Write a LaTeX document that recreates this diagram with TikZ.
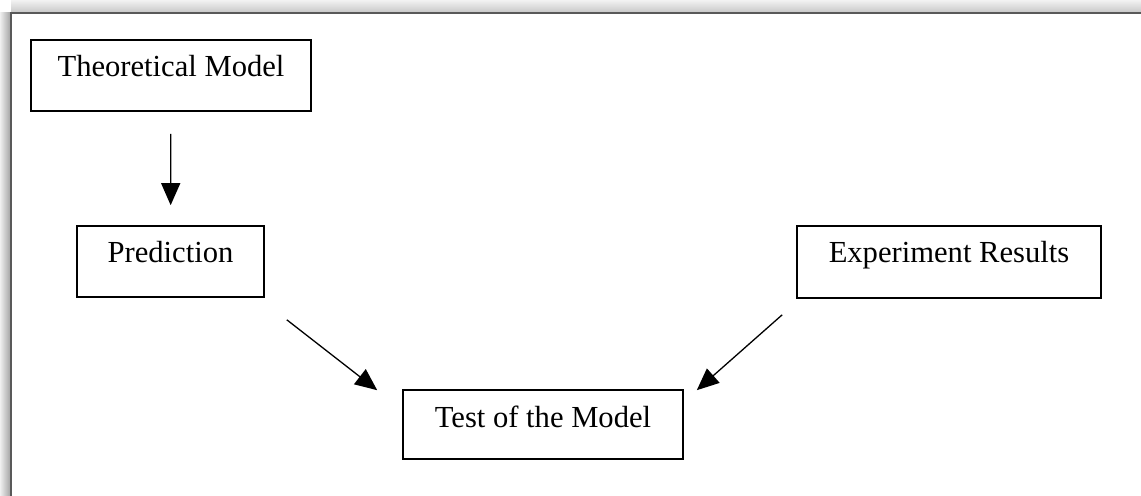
\documentclass[tikz,border=0pt]{standalone}
\usepackage{fontspec}
\setmainfont{Liberation Serif}
\usetikzlibrary{arrows.meta, positioning}

\begin{document}
\begin{tikzpicture}[x=0.5pt, y=-0.5pt,
    box/.style={draw, line width=0.8pt, inner sep=0pt, text height=18.5pt, text depth=17pt, font=\fontsize{15.3}{18}\selectfont},
    flow/.style={-{Triangle[length=11pt, width=9.5pt]}, line width=0.65pt}]
  \useasboundingbox (0,0) rectangle (1141,496);
  % window frame and its shadow
  \fill[white] (11,13) rectangle (1141,496);
  \shade[left color=gray!12, right color=gray!75] (0,13) rectangle (11,496);
  \shade[top color=gray!10, bottom color=gray!45] (11,0) rectangle (1141,13);
  \draw[line width=0.8pt, black!65] (11,1200) -- (11,13) -- (1300,13);

  \node[box, minimum width=140pt] (theory) at (171,75.5) {Theoretical Model};
  \node[box, minimum width=93.5pt] (pred) at (170.5,261.5) {Prediction};
  \node[box, minimum width=152pt, text depth=17.5pt] (exp) at (949,262) {Experiment Results};
  \node[box, minimum width=140pt, text height=19pt, text depth=15.5pt] (test) at (543,424.5) {Test of the Model};

  \draw[flow, shorten <=11pt, shorten >=10pt] (theory) -- (pred);
  \draw[flow] ([xshift=11pt, yshift=-11pt]pred.south east) -- ([xshift=-12.5pt, yshift=-0.5pt]test.north west);
  \draw[flow] ([xshift=-7pt, yshift=-8pt]exp.south west) -- ([xshift=6.5pt, yshift=-0.5pt]test.north east);
\end{tikzpicture}
\end{document}
